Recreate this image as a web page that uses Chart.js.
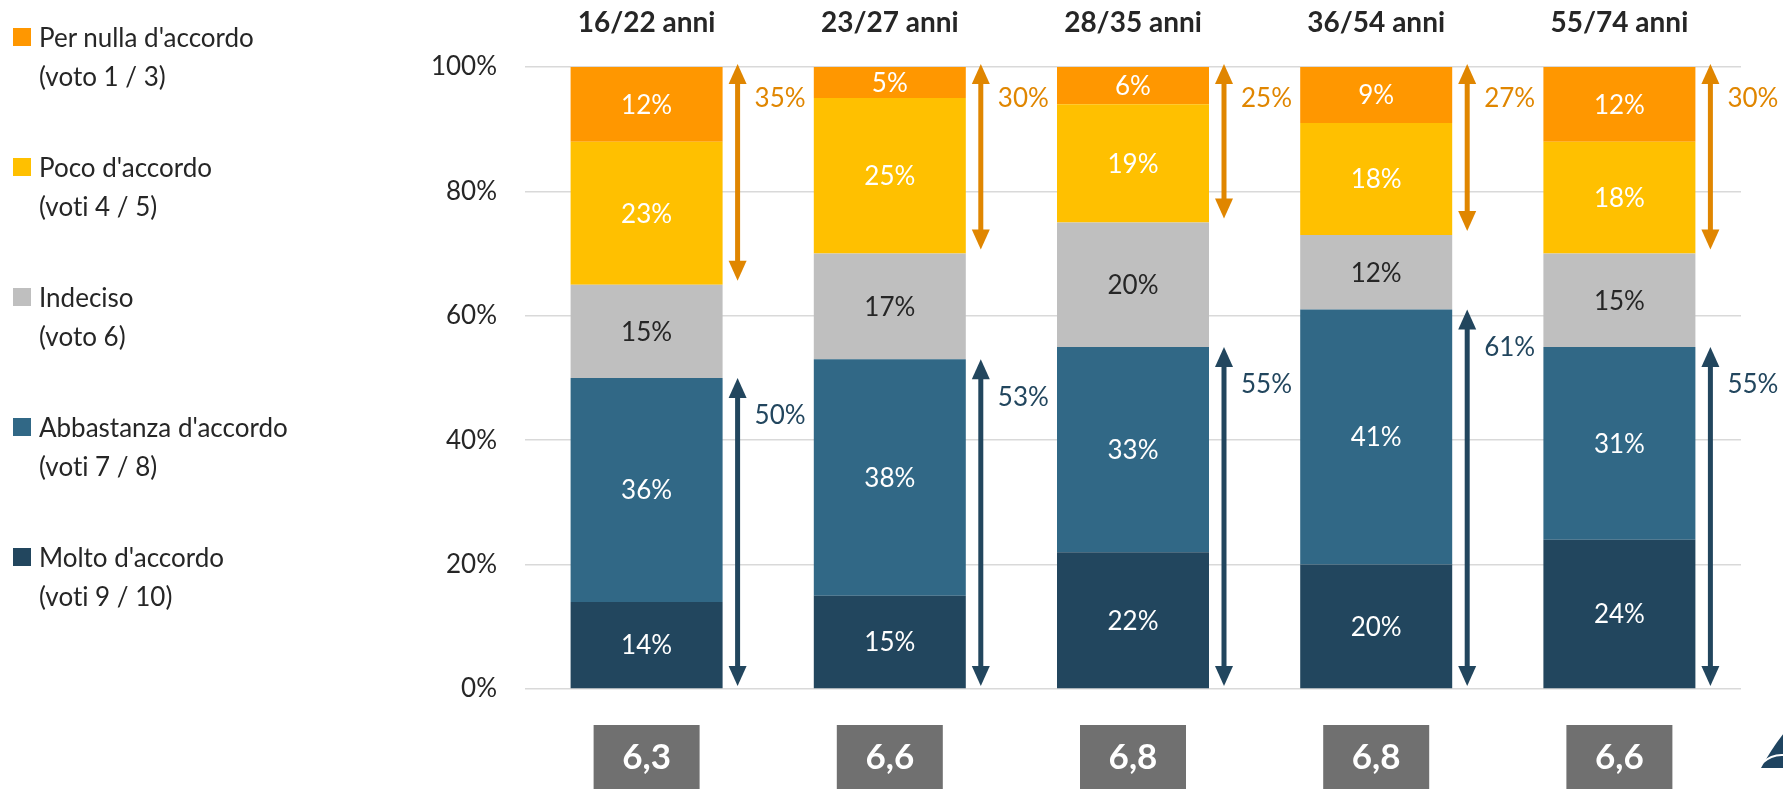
<!DOCTYPE html>
<html lang="it">
<head>
    <meta charset="UTF-8">
    <title>Grado di accordo per fascia d'età</title>
    <script src="https://cdn.jsdelivr.net/npm/chart.js"></script>
    <style>
        body {
            margin: 0;
            background-color: #ffffff;
            font-family: Lato, "Open Sans", sans-serif;
        }
        .wrap {
            position: relative;
            width: 1783px;
            height: 789px;
            overflow: hidden;
        }
        .legend {
            position: absolute;
            left: 0;
            top: 0;
        }
        .legend-item {
            position: absolute;
            left: 39px;
            font-size: 26px;
            line-height: 39px;
            color: #262626;
            white-space: nowrap;
            font-variant-ligatures: none;
        }
        .legend-item .box {
            position: absolute;
            left: -26px;
            top: 10px;
            width: 18px;
            height: 18px;
        }
    </style>
</head>
<body>
    <div class="wrap">
        <canvas id="ageChart"></canvas>
        <div class="legend" id="legend"></div>
    </div>

    <script>
        // fasce d'età e percentuali (dal basso verso l'alto)
        const ageGroups = ['16/22 anni', '23/27 anni', '28/35 anni', '36/54 anni', '55/74 anni'];
        const molto = [14, 15, 22, 20, 24];
        const abbastanza = [36, 38, 33, 41, 31];
        const indeciso = [15, 17, 20, 12, 15];
        const poco = [23, 25, 19, 18, 18];
        const perNulla = [12, 5, 6, 9, 12];
        const mediaVoti = [6.3, 6.6, 6.8, 6.8, 6.6];

        const seriesNames = ["Molto d'accordo", "Abbastanza d'accordo", "Indeciso", "Poco d'accordo", "Per nulla d'accordo"];
        const seriesNotes = ["(voti 9 / 10)", "(voti 7 / 8)", "(voto 6)", "(voti 4 / 5)", "(voto 1 / 3)"];
        const seriesColors = ['#22465E', '#316886', '#BFBFBF', '#FFC000', '#FF9700'];
        const labelColors = ['#ffffff', '#ffffff', '#262626', '#ffffff', '#ffffff'];

        const orangeArrow = '#E08600';
        const darkArrow = '#22465E';
        const FONT = 'Lato, "Open Sans", sans-serif';

        // legenda: dall'alto "Per nulla" fino a "Molto"
        const legend = document.getElementById('legend');
        for (let k = seriesNames.length - 1, row = 0; k >= 0; k--, row++) {
            const item = document.createElement('div');
            item.className = 'legend-item';
            item.style.top = (17.5 + row * 130.2) + 'px';
            item.innerHTML = '<span class="box" style="background:' + seriesColors[k] + '"></span>' +
                seriesNames[k] + '<br>' + seriesNotes[k];
            legend.appendChild(item);
        }

        function drawArrow(ctx, x, yTop, yBottom, color, headTop, headBottom) {
            const head = 20, half = 9;
            ctx.save();
            ctx.strokeStyle = color;
            ctx.fillStyle = color;
            ctx.lineWidth = 5;
            ctx.beginPath();
            ctx.moveTo(x, yTop + (headTop ? head - 2 : 0));
            ctx.lineTo(x, yBottom - (headBottom ? head - 2 : 0));
            ctx.stroke();
            if (headTop) {
                ctx.beginPath();
                ctx.moveTo(x, yTop);
                ctx.lineTo(x - half, yTop + head);
                ctx.lineTo(x + half, yTop + head);
                ctx.closePath();
                ctx.fill();
            }
            if (headBottom) {
                ctx.beginPath();
                ctx.moveTo(x, yBottom);
                ctx.lineTo(x - half, yBottom - head);
                ctx.lineTo(x + half, yBottom - head);
                ctx.closePath();
                ctx.fill();
            }
            ctx.restore();
        }

        const extrasPlugin = {
            id: 'extras',
            afterDatasetsDraw(chart) {
                const ctx = chart.ctx;
                const y = chart.scales.y;

                // percentuali dentro le barre
                ctx.save();
                ctx.font = '26px ' + FONT;
                ctx.textAlign = 'center';
                ctx.textBaseline = 'middle';
                chart.data.datasets.forEach((ds, d) => {
                    chart.getDatasetMeta(d).data.forEach((bar, i) => {
                        ctx.fillStyle = labelColors[d];
                        ctx.fillText(ds.data[i] + '%', bar.x, (bar.y + bar.base) / 2 + 1);
                    });
                });
                ctx.restore();

                // frecce con i totali di disaccordo e di accordo
                const topMeta = chart.getDatasetMeta(4).data;
                topMeta.forEach((bar, i) => {
                    const ax = bar.x + bar.width / 2 + 15;
                    const neg = perNulla[i] + poco[i];
                    const pos = molto[i] + abbastanza[i];

                    drawArrow(ctx, ax, y.getPixelForValue(100) - 3, y.getPixelForValue(100 - neg) - 4, orangeArrow, true, true);
                    const posTop = y.getPixelForValue(pos);
                    drawArrow(ctx, ax, posTop, y.getPixelForValue(0) - 3, darkArrow, true, true);

                    ctx.save();
                    ctx.font = '26px ' + FONT;
                    ctx.textAlign = 'left';
                    ctx.textBaseline = 'middle';
                    ctx.fillStyle = orangeArrow;
                    ctx.fillText(neg + '%', ax + 17, y.getPixelForValue(95) + 1);
                    ctx.fillStyle = darkArrow;
                    ctx.fillText(pos + '%', ax + 17, posTop + 38);
                    ctx.restore();

                    // voto medio
                    ctx.save();
                    ctx.fillStyle = '#707070';
                    ctx.fillRect(bar.x - 53, 725, 106, 70);
                    ctx.fillStyle = '#ffffff';
                    ctx.font = 'bold 35px ' + FONT;
                    ctx.textAlign = 'center';
                    ctx.textBaseline = 'middle';
                    ctx.fillText(mediaVoti[i].toFixed(1).replace('.', ','), bar.x, 758);
                    ctx.restore();
                });

                // logo in basso a destra
                ctx.save();
                ctx.fillStyle = '#1F4460';
                ctx.beginPath();
                ctx.moveTo(1784, 733);
                ctx.quadraticCurveTo(1772, 748, 1761, 768);
                ctx.lineTo(1784, 768);
                ctx.closePath();
                ctx.fill();
                ctx.strokeStyle = '#ffffff';
                ctx.lineWidth = 2;
                ctx.beginPath();
                ctx.moveTo(1762, 763);
                ctx.quadraticCurveTo(1772, 754, 1784, 755);
                ctx.stroke();
                ctx.restore();
            }
        };

        const datasets = [molto, abbastanza, indeciso, poco, perNulla].map((values, d) => ({
            label: seriesNames[d],
            data: values,
            backgroundColor: seriesColors[d],
            borderWidth: 0,
            barPercentage: 1,
            categoryPercentage: 0.625
        }));

        new Chart(document.getElementById('ageChart'), {
            type: 'bar',
            data: { labels: ageGroups, datasets: datasets },
            options: {
                responsive: true,
                maintainAspectRatio: false,
                animation: false,
                layout: { padding: { top: 0, right: 42, bottom: 100, left: 0 } },
                plugins: {
                    legend: { display: false },
                    tooltip: { enabled: false }
                },
                scales: {
                    x: {
                        position: 'top',
                        stacked: true,
                        grid: { display: false },
                        border: { display: false },
                        ticks: {
                            color: '#262626',
                            font: { family: FONT, size: 28, weight: 'bold' },
                            padding: 19
                        },
                        afterFit(scale) { scale.height = 67; }
                    },
                    y: {
                        stacked: true,
                        min: 0,
                        max: 100,
                        ticks: {
                            stepSize: 20,
                            color: '#262626',
                            font: { family: FONT, size: 26 },
                            padding: 28,
                            callback: v => v + '%'
                        },
                        grid: { color: '#D9D9D9', lineWidth: 1.5, drawTicks: false },
                        border: { display: false },
                        afterFit(scale) { scale.width = 525; }
                    }
                }
            },
            plugins: [extrasPlugin]
        });
    </script>
</body>
</html>
